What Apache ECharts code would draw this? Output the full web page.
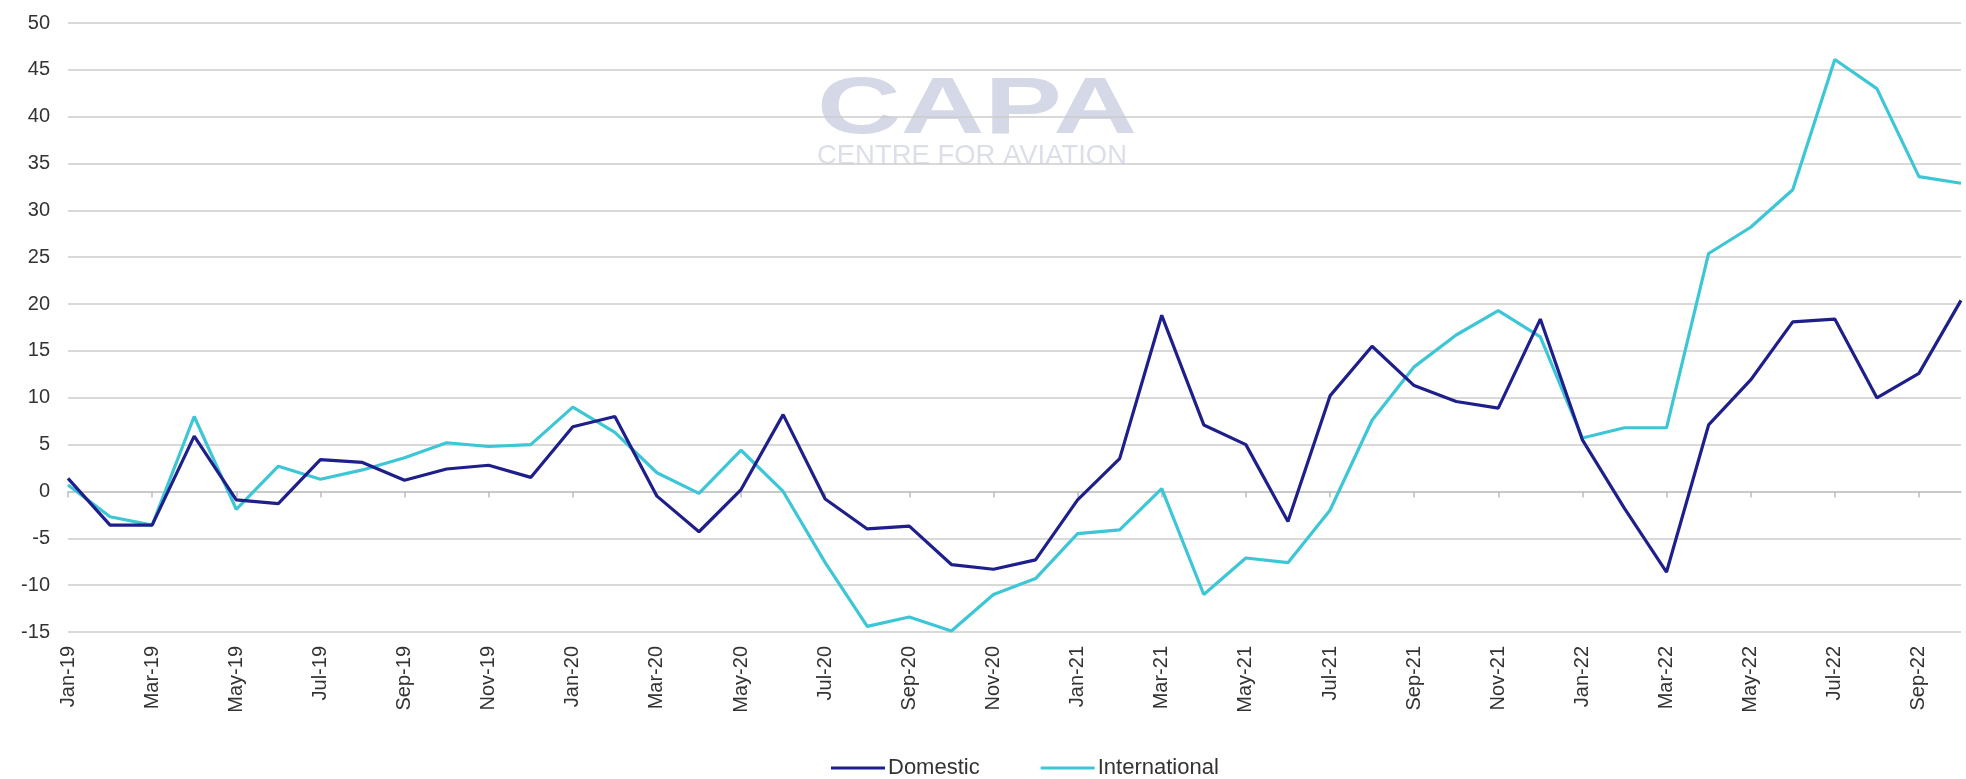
<!DOCTYPE html>
<html>
<head>
<meta charset="utf-8">
<script src="https://cdn.jsdelivr.net/npm/echarts@6/dist/echarts.min.js"></script>
<style>
html,body{margin:0;padding:0;background:#ffffff;}
#chart{width:1966px;height:779px;}
</style>
</head>
<body>
<div id="chart"></div>
<script>
var months = ['Jan-19','Feb-19','Mar-19','Apr-19','May-19','Jun-19','Jul-19','Aug-19','Sep-19','Oct-19','Nov-19','Dec-19',
  'Jan-20','Feb-20','Mar-20','Apr-20','May-20','Jun-20','Jul-20','Aug-20','Sep-20','Oct-20','Nov-20','Dec-20',
  'Jan-21','Feb-21','Mar-21','Apr-21','May-21','Jun-21','Jul-21','Aug-21','Sep-21','Oct-21','Nov-21','Dec-21',
  'Jan-22','Feb-22','Mar-22','Apr-22','May-22','Jun-22','Jul-22','Aug-22','Sep-22','Oct-22'];

var domestic = [1.4,-3.6,-3.6,5.9,-0.9,-1.3,3.4,3.1,1.2,2.4,2.8,1.5,
  6.9,8.0,-0.5,-4.3,0.2,8.2,-0.8,-4.0,-3.7,-7.8,-8.3,-7.3,
  -0.9,3.5,18.8,7.1,5.0,-3.2,10.2,15.5,11.3,9.6,8.9,18.4,
  5.5,-1.8,-8.6,7.1,11.9,18.1,18.4,10.0,12.6,20.4];

var international = [0.7,-2.7,-3.6,8.0,-1.9,2.7,1.3,2.3,3.6,5.2,4.8,5.0,
  9.0,6.3,2.0,-0.2,4.4,0.0,-7.6,-14.4,-13.4,-14.9,-11.0,-9.3,
  -4.5,-4.1,0.3,-11.0,-7.1,-7.6,-2.0,7.6,13.3,16.7,19.3,16.5,
  5.7,6.8,6.8,25.4,28.2,32.2,46.1,43.0,33.6,32.9];

var yMin = -15, yMax = 50, yStep = 5;
var seriesNames = ['Domestic', 'International'];
var seriesColors = ['#1f1f8c', '#3cc6d6'];

var font = '"Liberation Sans", Arial, sans-serif';
var chart = echarts.init(document.getElementById('chart'), null, {renderer: 'canvas'});

var option = {
  backgroundColor: '#ffffff',
  animation: false,
  grid: {left: 68, right: 5, top: 23, bottom: 147, containLabel: false},
  legend: {
    left: 826, top: 752,
    icon: 'rect', itemWidth: 54, itemHeight: 3, itemGap: 61,
    textStyle: {fontFamily: font, fontSize: 22, color: '#333333', padding: [0,0,0,-2]},
    data: seriesNames
  },
  xAxis: [
    {
      type: 'category', data: months, boundaryGap: false, position: 'top',
      axisLine: {show: true, onZero: true, lineStyle: {color: '#c4c4c4', width: 1.5}},
      axisTick: {show: true, inside: true, length: 6, interval: 1, lineStyle: {color: '#bdbdbd', width: 1.5}},
      axisLabel: {show: false}, splitLine: {show: false}
    },
    {
      type: 'category', data: months, boundaryGap: false, position: 'bottom',
      axisLine: {show: false, onZero: false}, axisTick: {show: false},
      axisLabel: {show: true, interval: 1, rotate: 90, margin: 14, fontFamily: font, fontSize: 20, color: '#333333'},
      splitLine: {show: false}
    }
  ],
  yAxis: {
    type: 'value', min: yMin, max: yMax, interval: yStep,
    axisLine: {show: false}, axisTick: {show: false},
    axisLabel: {margin: 18, fontFamily: font, fontSize: 20, color: '#333333'},
    splitLine: {show: true, lineStyle: {color: '#cccccc', width: 1.5}}
  },
  graphic: [
    {type: 'text', x: 817, y: 71, scaleX: 1.45, silent: true, z: 0,
     style: {text: 'CAPA', font: 'bold 80px ' + font, fill: '#d5d8e6'}},
    {type: 'text', x: 817, y: 142, scaleX: 0.98, silent: true, z: 0,
     style: {text: 'CENTRE FOR AVIATION', font: '28px ' + font, fill: '#dcdfe9'}}
  ],
  series: [
    {name: seriesNames[0], type: 'line', xAxisIndex: 0, data: domestic, showSymbol: false, symbol: 'none',
     lineStyle: {color: seriesColors[0], width: 3.2}, itemStyle: {color: seriesColors[0]}, z: 3},
    {name: seriesNames[1], type: 'line', xAxisIndex: 0, data: international, showSymbol: false, symbol: 'none',
     lineStyle: {color: seriesColors[1], width: 3.2}, itemStyle: {color: seriesColors[1]}, z: 2}
  ]
};
chart.setOption(option);
</script>
</body>
</html>
